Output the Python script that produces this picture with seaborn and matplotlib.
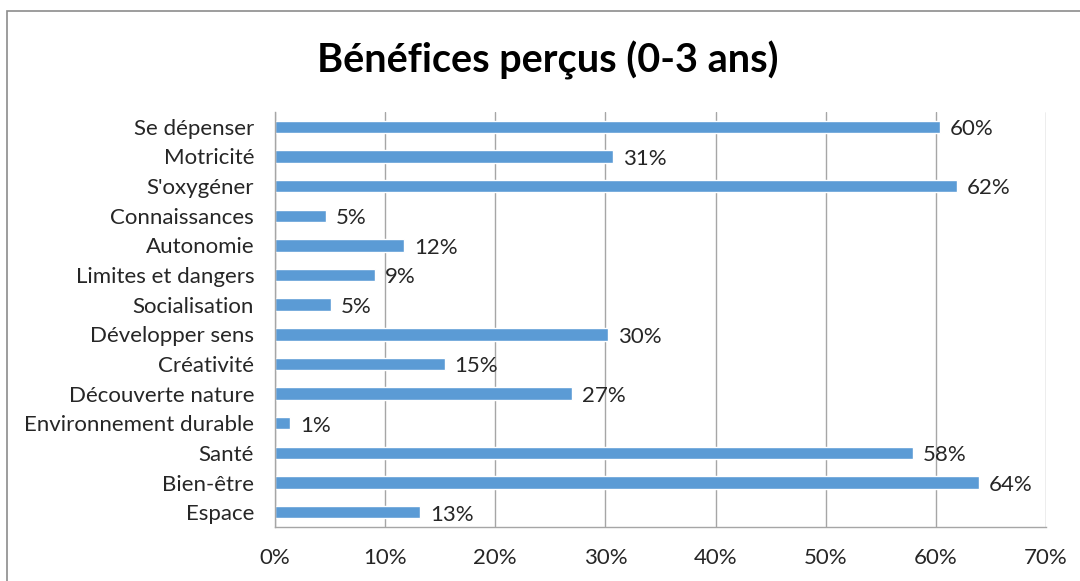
import matplotlib
matplotlib.use("Agg")
import matplotlib.pyplot as plt
import seaborn as sns
import pandas as pd
from matplotlib.patches import Rectangle
from matplotlib.ticker import FuncFormatter

categories = ["Se dépenser", "Motricité", "S'oxygéner", "Connaissances", "Autonomie",
              "Limites et dangers", "Socialisation", "Développer sens", "Créativité",
              "Découverte nature", "Environnement durable", "Santé", "Bien-être", "Espace"]
values = [60.4, 30.7, 61.9, 4.6, 11.7, 9.1, 5.1, 30.2, 15.4, 27.0, 1.4, 57.9, 63.9, 13.2]
labels = ["60%", "31%", "62%", "5%", "12%", "9%", "5%", "30%", "15%", "27%", "1%", "58%", "64%", "13%"]
xticks = [0, 10, 20, 30, 40, 50, 60, 70]

sns.set_theme(style="white")
plt.rcParams['font.family'] = ['Lato', 'DejaVu Sans']

df = pd.DataFrame({"cat": categories, "val": values})

fig = plt.figure(figsize=(10.8, 5.81), dpi=100)
ax = fig.add_axes([275/1080, 1-527/581, (1046-275)/1080, (527-112)/581])

grid_color = "#A6A6A6"
for t in xticks:
    ax.axvline(t, color=grid_color, lw=1.0, zorder=0)

sns.barplot(data=df, x="val", y="cat", orient="h", color="#5B9BD5", saturation=1,
            width=0.42, ax=ax, zorder=2)

for i, (v, lab) in enumerate(zip(values, labels)):
    ax.text(v + 0.9, i + 0.08, lab, va="center", ha="left", fontsize=16, color="#262626")

ax.set_xlim(0, 70)
ax.set_ylim(len(categories) - 0.5, -0.5)
ax.set_xticks(xticks)
ax.xaxis.set_major_formatter(FuncFormatter(lambda x, p: f"{int(x)}%"))
ax.set_xlabel("")
ax.set_ylabel("")
ax.tick_params(axis="x", labelsize=16, pad=15, length=0, colors="#262626")
ax.tick_params(axis="y", labelsize=16, pad=15, length=0, colors="#262626")

for s in ["top", "right"]:
    ax.spines[s].set_visible(False)
for s in ["left", "bottom"]:
    ax.spines[s].set_color(grid_color)
    ax.spines[s].set_linewidth(1.0)

fig.text(548/1080, 1-60/581, "Bénéfices perçus (0-3 ans)", ha="center", va="center",
         fontsize=28.5, fontweight="bold", color="black")

fig.patches.append(Rectangle((7/1080, -0.1), 1.2, 1.1 - 11/581, transform=fig.transFigure,
                             fill=False, edgecolor="#8C8C8C", lw=1.2))

fig.savefig("out.png", dpi=100)
